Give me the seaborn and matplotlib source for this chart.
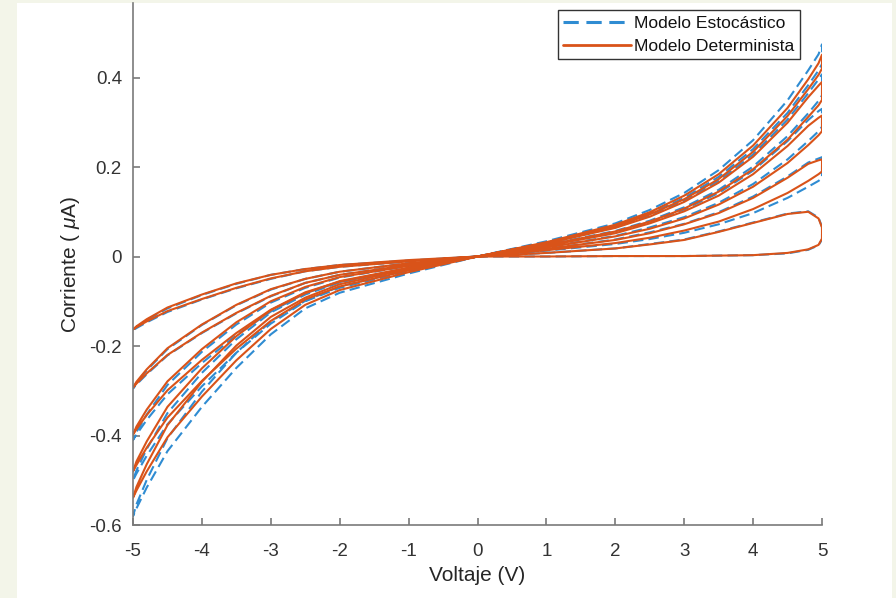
import matplotlib
matplotlib.use("Agg")
import matplotlib.pyplot as plt
from matplotlib.lines import Line2D
from matplotlib.patches import Rectangle
import pandas as pd
import seaborn as sns

# Voltage samples along each branch of a lobe (positive and negative half-cycles)
V_POS = [0, 1, 2, 2.5, 3, 3.5, 4, 4.5, 4.8, 4.95, 5]
V_NEG = [0, -1, -2, -2.5, -3, -3.5, -4, -4.5, -4.8, -4.95, -5]

# Deterministic model, current in uA: "ida" = branch going out to +/-5 V, "vuelta" = branch coming back
det_pos_ida = [
    [0, 0.000, 0.001, 0.001, 0.001, 0.002, 0.003, 0.008, 0.016, 0.026, 0.040],
    [0, 0.014, 0.030, 0.042, 0.058, 0.078, 0.106, 0.142, 0.169, 0.184, 0.190],
    [0, 0.020, 0.045, 0.062, 0.085, 0.116, 0.156, 0.209, 0.249, 0.271, 0.280],
    [0, 0.025, 0.056, 0.078, 0.107, 0.145, 0.195, 0.261, 0.312, 0.338, 0.350],
    [0, 0.030, 0.067, 0.094, 0.128, 0.173, 0.234, 0.314, 0.374, 0.406, 0.420],
]
det_pos_vuelta = [
    [0, 0.008, 0.018, 0.027, 0.037, 0.055, 0.075, 0.095, 0.100, 0.085, 0.065],
    [0, 0.017, 0.037, 0.052, 0.072, 0.097, 0.131, 0.176, 0.207, 0.215, 0.217],
    [0, 0.024, 0.052, 0.074, 0.101, 0.136, 0.184, 0.247, 0.292, 0.310, 0.315],
    [0, 0.029, 0.064, 0.089, 0.122, 0.165, 0.223, 0.299, 0.356, 0.382, 0.390],
    [0, 0.032, 0.071, 0.099, 0.136, 0.184, 0.248, 0.332, 0.396, 0.432, 0.451],
]
det_neg_ida = [
    [0, -0.008, -0.019, -0.028, -0.041, -0.060, -0.085, -0.114, -0.140, -0.156, -0.163],
    [0, -0.015, -0.034, -0.050, -0.073, -0.108, -0.152, -0.205, -0.252, -0.280, -0.293],
    [0, -0.021, -0.046, -0.068, -0.100, -0.147, -0.207, -0.279, -0.342, -0.380, -0.398],
    [0, -0.025, -0.055, -0.082, -0.120, -0.178, -0.250, -0.336, -0.413, -0.458, -0.480],
    [0, -0.028, -0.062, -0.092, -0.135, -0.199, -0.280, -0.377, -0.464, -0.515, -0.539],
]
det_neg_vuelta = [
    [0, -0.011, -0.023, -0.033, -0.049, -0.070, -0.095, -0.122, -0.145, -0.158, -0.163],
    [0, -0.019, -0.041, -0.059, -0.088, -0.126, -0.170, -0.220, -0.261, -0.284, -0.293],
    [0, -0.026, -0.056, -0.080, -0.119, -0.171, -0.231, -0.299, -0.354, -0.386, -0.398],
    [0, -0.031, -0.067, -0.096, -0.144, -0.206, -0.278, -0.360, -0.427, -0.466, -0.480],
    [0, -0.035, -0.075, -0.108, -0.162, -0.232, -0.313, -0.404, -0.480, -0.523, -0.539],
]

# Stochastic model, same layout
est_pos_ida = [
    [0, 0.000, 0.001, 0.001, 0.001, 0.002, 0.003, 0.007, 0.015, 0.025, 0.038],
    [0, 0.013, 0.028, 0.039, 0.053, 0.072, 0.097, 0.131, 0.156, 0.169, 0.175],
    [0, 0.021, 0.046, 0.065, 0.088, 0.120, 0.162, 0.217, 0.258, 0.280, 0.290],
    [0, 0.026, 0.057, 0.080, 0.110, 0.149, 0.201, 0.269, 0.320, 0.348, 0.360],
    [0, 0.031, 0.068, 0.096, 0.131, 0.178, 0.240, 0.321, 0.383, 0.416, 0.430],
]
est_pos_vuelta = [
    [0, 0.008, 0.018, 0.028, 0.038, 0.056, 0.076, 0.096, 0.101, 0.087, 0.066],
    [0, 0.017, 0.038, 0.054, 0.073, 0.099, 0.134, 0.179, 0.210, 0.219, 0.222],
    [0, 0.025, 0.055, 0.077, 0.105, 0.142, 0.192, 0.258, 0.305, 0.325, 0.330],
    [0, 0.030, 0.065, 0.091, 0.125, 0.169, 0.228, 0.306, 0.365, 0.396, 0.407],
    [0, 0.034, 0.074, 0.104, 0.142, 0.193, 0.260, 0.349, 0.416, 0.452, 0.474],
]
est_neg_ida = [
    [0, -0.009, -0.019, -0.028, -0.041, -0.061, -0.086, -0.116, -0.142, -0.158, -0.165],
    [0, -0.015, -0.034, -0.050, -0.074, -0.109, -0.153, -0.207, -0.254, -0.282, -0.295],
    [0, -0.021, -0.047, -0.070, -0.103, -0.152, -0.213, -0.287, -0.353, -0.392, -0.410],
    [0, -0.026, -0.058, -0.085, -0.125, -0.185, -0.260, -0.350, -0.430, -0.478, -0.500],
    [0, -0.030, -0.067, -0.099, -0.145, -0.215, -0.302, -0.406, -0.499, -0.554, -0.580],
]
est_neg_vuelta = [
    [0, -0.011, -0.023, -0.033, -0.050, -0.071, -0.096, -0.124, -0.147, -0.160, -0.165],
    [0, -0.019, -0.041, -0.059, -0.089, -0.127, -0.171, -0.221, -0.263, -0.286, -0.295],
    [0, -0.027, -0.057, -0.082, -0.123, -0.176, -0.238, -0.308, -0.365, -0.398, -0.410],
    [0, -0.033, -0.070, -0.100, -0.150, -0.215, -0.290, -0.375, -0.445, -0.485, -0.500],
    [0, -0.038, -0.081, -0.116, -0.174, -0.249, -0.336, -0.435, -0.516, -0.563, -0.580],
]

MODELOS = ["Modelo Estocástico", "Modelo Determinista"]
COLORES = {"Modelo Estocástico": "#2f8cd2", "Modelo Determinista": "#d95319"}

X_TICKS = [-5, -4, -3, -2, -1, 0, 1, 2, 3, 4, 5]
X_LABELS = ["-5", "-4", "-3", "-2", "-1", "0", "1", "2", "3", "4", "5"]
Y_TICKS = [-0.6, -0.4, -0.2, 0, 0.2, 0.4]
Y_LABELS = ["-0.6", "-0.4", "-0.2", "0", "0.2", "0.4"]

# Long-form table: each lobe is a closed path out along "ida" and back along "vuelta"
fuentes = {
    "Modelo Estocástico": [(V_POS, est_pos_ida, est_pos_vuelta), (V_NEG, est_neg_ida, est_neg_vuelta)],
    "Modelo Determinista": [(V_POS, det_pos_ida, det_pos_vuelta), (V_NEG, det_neg_ida, det_neg_vuelta)],
}
filas = []
for modelo in MODELOS:
    for lado, (volts, idas, vueltas) in enumerate(fuentes[modelo]):
        for k, (ida, vuelta) in enumerate(zip(idas, vueltas)):
            v = list(volts) + list(volts[::-1])
            i = list(ida) + list(vuelta[::-1])
            for vv, ii in zip(v, i):
                filas.append({"Voltaje": vv, "Corriente": ii, "modelo": modelo,
                              "lazo": f"{lado}-{k}"})
df = pd.DataFrame(filas)

sns.set_theme(style="white")
plt.rcParams["font.family"] = ["Liberation Sans", "DejaVu Sans"]
plt.rcParams["mathtext.fontset"] = "custom"
plt.rcParams["mathtext.rm"] = "Liberation Sans"
plt.rcParams["mathtext.it"] = "Liberation Sans:italic"
plt.rcParams["axes.unicode_minus"] = False

W, H = 896, 598
fig = plt.figure(figsize=(W / 100, H / 100), dpi=100)
fig.patch.set_facecolor("#f3f5e9")
fig.patches.append(Rectangle((17 / W, 0), 875 / W, 595 / H, transform=fig.transFigure,
                             facecolor="white", edgecolor="none", zorder=-5))

ax = fig.add_axes([133 / W, (H - 525) / H, 689 / W, 522 / H])
ax.set_facecolor("white")
ax.patch.set_alpha(0)

sns.lineplot(data=df, x="Voltaje", y="Corriente", hue="modelo", hue_order=MODELOS,
             palette=COLORES, style="modelo", style_order=MODELOS,
             dashes={"Modelo Estocástico": (5, 2.5), "Modelo Determinista": ""},
             units="lazo", estimator=None, sort=False, linewidth=1.5,
             legend=False, ax=ax)

ax.set_xlim(-5, 5)
ax.set_ylim(-0.6, 0.5665)
ax.set_xticks(X_TICKS)
ax.set_xticklabels(X_LABELS)
ax.set_yticks(Y_TICKS)
ax.set_yticklabels(Y_LABELS)

for s in ["top", "right"]:
    ax.spines[s].set_visible(False)
for s in ["left", "bottom"]:
    ax.spines[s].set_color("#7a7a7a")
    ax.spines[s].set_linewidth(1.2)

ax.tick_params(axis="both", which="major", bottom=True, left=True, top=False, right=False,
               direction="in", length=5, width=1.1, color="#6e6e6e",
               labelcolor="#333333", labelsize=13.5)
ax.tick_params(axis="x", pad=13)
ax.tick_params(axis="y", pad=8)

ax.set_xlabel("Voltaje (V)", fontsize=15, color="#262626", labelpad=4)
ax.set_ylabel("Corriente ( $\\mu$A)", fontsize=15, color="#262626", labelpad=5)

handles = [
    Line2D([], [], color=COLORES["Modelo Estocástico"], lw=2.2, dashes=(5, 2.5)),
    Line2D([], [], color=COLORES["Modelo Determinista"], lw=2),
]
leg = ax.legend(handles, MODELOS, loc="upper right", bbox_to_anchor=(0.968, 0.987),
                borderaxespad=0, fontsize=12.6, frameon=True, fancybox=False,
                handlelength=3.9, handletextpad=0.15, labelspacing=0.45,
                borderpad=0.32, framealpha=1)
leg.get_frame().set_edgecolor("#333333")
leg.get_frame().set_linewidth(1.0)
for t in leg.get_texts():
    t.set_color("#111111")

fig.savefig("out.png", dpi=100, facecolor=fig.get_facecolor())
